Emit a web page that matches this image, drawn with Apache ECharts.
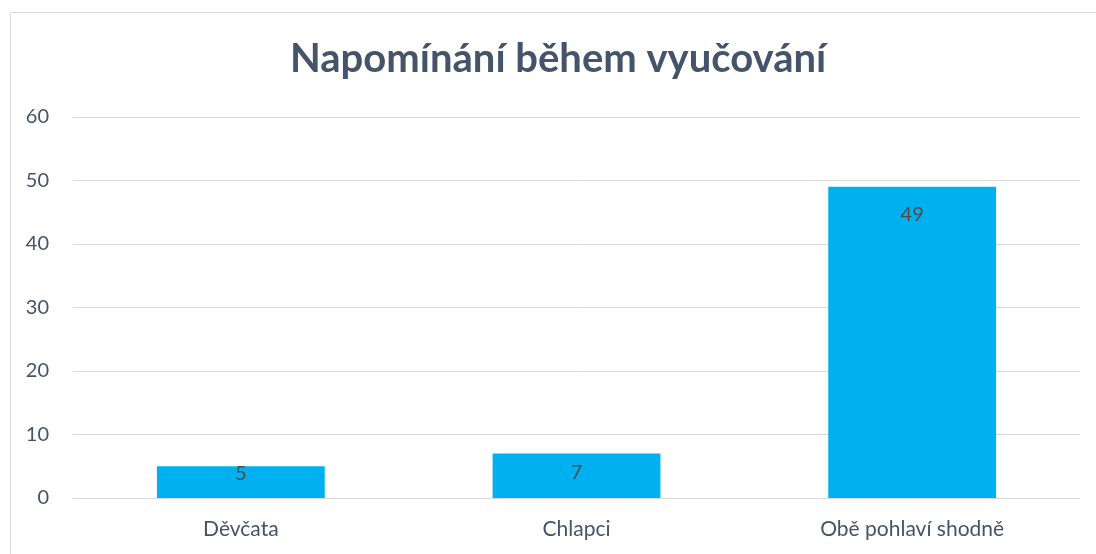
<!DOCTYPE html>
<html><head><meta charset="utf-8">
<script src="https://cdn.jsdelivr.net/npm/echarts@6/dist/echarts.min.js"></script>
<style>html,body{margin:0;padding:0;background:#fff}#c{width:1096px;height:554px}</style>
</head><body><div id="c"></div>
<script>
const categories = ['Děvčata', 'Chlapci', 'Obě pohlaví shodně'];
const values = [5, 7, 49];
const yTicks = [0, 10, 20, 30, 40, 50, 60];

// label placement inside the bars (styling only)
const labelDistance = [-3, 9, 18];

const chart = echarts.init(document.getElementById('c'));
chart.setOption({
  animation: false,
  graphic: [{
    type: 'rect', shape: { x: 10.5, y: 12.5, width: 1100, height: 560 },
    style: { fill: 'none', stroke: '#d9d9d9', lineWidth: 1 }, silent: true
  }],
  title: {
    text: 'Napomínání během vyučování', left: 285, top: 34,
    textStyle: { fontFamily: 'Lato', fontWeight: 'bold', fontSize: 40, color: '#44546a' }
  },
  grid: { left: 73, right: 16, top: 117, bottom: 56 },
  xAxis: {
    type: 'category', data: categories,
    axisLine: { lineStyle: { color: '#d9d9d9' } }, axisTick: { show: false },
    axisLabel: { fontFamily: 'Lato', fontSize: 21, color: '#44546a', margin: 21 }
  },
  yAxis: {
    type: 'value', min: yTicks[0], max: yTicks[yTicks.length - 1], interval: 10,
    axisLine: { show: false }, axisTick: { show: false },
    splitLine: { lineStyle: { color: '#d9d9d9', width: 1 } },
    axisLabel: { fontFamily: 'Lato', fontSize: 20, color: '#44546a', margin: 24 }
  },
  series: [{
    type: 'bar',
    data: values.map((v, i) => ({ value: v, label: { distance: labelDistance[i] } })),
    barWidth: '50%',
    itemStyle: { color: '#00b0f0' },
    label: { show: true, position: 'insideTop', fontFamily: 'Lato', fontSize: 20, color: '#4d4d4d' }
  }]
});
</script></body></html>
